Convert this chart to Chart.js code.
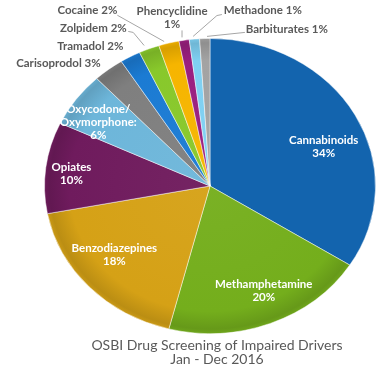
<!DOCTYPE html>
<html>
<head>
<meta charset="utf-8">
<script src="https://cdn.jsdelivr.net/npm/chart.js@4.4.1/dist/chart.umd.min.js"></script>
<style>
html,body{margin:0;padding:0;background:#fff;}
canvas{display:block;}
</style>
</head>
<body>
<canvas id="c" width="380" height="380"></canvas>
<script>
// ---- data ----
const categories = ["Cannabinoids","Methamphetamine","Benzodiazepines","Opiates","Oxycodone/ Oxymorphone:","Carisoprodol","Tramadol","Zolpidem","Cocaine","Phencyclidine","Methadone","Barbiturates"];
const percents = [34,20,18,10,6,3,2,2,2,1,1,1];
const sliceColors = ["#1364ae","#74ae1c","#d5a116","#6f1b5d","#6db6da","#7f7f7f","#1b7bd3","#88c82b","#f6b500","#9a1f7f","#7fd0f2","#a3a3a3"];
const titleLines = ["OSBI Drug Screening of Impaired Drivers","Jan - Dec 2016"];

// label layout (relative to pie centre, in units of radius)
const labelLayout = [
  {lines:["Cannabinoids","34%"], fx:0.687, fy:-0.236, inside:true},
  {lines:["Methamphetamine","20%"], fx:0.325, fy:0.633, inside:true},
  {lines:["Benzodiazepines","18%"], fx:-0.578, fy:0.416, inside:true},
  {lines:["Opiates","10%"], fx:-0.837, fy:-0.075, inside:true},
  {lines:["Oxycodone/","Oxymorphone:","6%"], fx:-0.675, fy:-0.386, inside:true},
  {lines:["Carisoprodol 3%"], fx:-0.916, fy:-0.741},
  {lines:["Tramadol 2%"], fx:-0.723, fy:-0.843},
  {lines:["Zolpidem 2%"], fx:-0.705, fy:-0.952},
  {lines:["Cocaine 2%"], fx:-0.741, fy:-1.060},
  {lines:["Phencyclidine","1%"], fx:-0.229, fy:-1.015},
  {lines:["Methadone 1%"], fx:0.319, fy:-1.060},
  {lines:["Barbiturates 1%"], fx:0.464, fy:-0.946}
];
const leaders = [
  [[-0.560,-1.032],[-0.277,-0.873]],
  [[-0.494,-0.934],[-0.464,-0.928],[-0.398,-0.849]],
  [[-0.169,-0.940],[-0.169,-0.898]],
  [[0.072,-1.036],[0.042,-1.030],[-0.102,-0.904]],
  [[0.211,-0.928],[-0.018,-0.904]]
];
const yRatio = 148/166;

function shade(hex, f){
  const n=parseInt(hex.slice(1),16);
  let r=(n>>16)&255,g=(n>>8)&255,b=n&255;
  if(f<0){r*=1+f;g*=1+f;b*=1+f;}
  else{r+=(255-r)*f;g+=(255-g)*f;b+=(255-b)*f;}
  return `rgb(${Math.round(r)},${Math.round(g)},${Math.round(b)})`;
}

function sliceFill(c){
  const chart=c.chart;
  const base=sliceColors[c.dataIndex];
  const a=chart.getDatasetMeta(0).data[0];
  if(!a || !a.outerRadius) return base;
  const g=chart.ctx.createRadialGradient(a.x,a.y,0,a.x,a.y,a.outerRadius);
  g.addColorStop(0,shade(base,0.04));
  g.addColorStop(0.85,base);
  g.addColorStop(0.97,shade(base,-0.12));
  g.addColorStop(1,shade(base,-0.05));
  return g;
}

const pieLook = {
  id:'pieLook',
  beforeDatasetsDraw(chart){
    const a = chart.getDatasetMeta(0).data[0];
    const ctx = chart.ctx;
    ctx.save();
    ctx.translate(a.x,a.y);
    ctx.scale(1,yRatio);
    ctx.translate(-a.x,-a.y);
  },
  afterDatasetsDraw(chart){
    const ctx = chart.ctx;
    ctx.restore();
    const a = chart.getDatasetMeta(0).data[0];
    const cx=a.x, cy=a.y, r=a.outerRadius;
    ctx.save();
    ctx.strokeStyle="#a6a6a6";
    ctx.lineWidth=1;
    leaders.forEach(pts=>{
      ctx.beginPath();
      pts.forEach((p,i)=>{
        const x=cx+p[0]*r, y=cy+p[1]*r;
        if(i===0) ctx.moveTo(x,y); else ctx.lineTo(x,y);
      });
      ctx.stroke();
    });
    ctx.textAlign='center';
    ctx.textBaseline='middle';
    ctx.font="bold 11.5px Lato";
    const lh=13;
    labelLayout.forEach(l=>{
      ctx.fillStyle = l.inside ? "#ffffff" : "#595959";
      const x=cx+l.fx*r, y0=cy+l.fy*r-(l.lines.length-1)*lh/2;
      l.lines.forEach((t,i)=>ctx.fillText(t,x,y0+i*lh));
    });
    ctx.fillStyle="#595959";
    ctx.font="14px Lato";
    ctx.fillText(titleLines[0],217,345);
    ctx.fillText(titleLines[1],217,359);
    ctx.restore();
  }
};

new Chart(document.getElementById('c'),{
  type:'pie',
  data:{labels:categories,datasets:[{data:percents,backgroundColor:sliceFill,borderColor:'rgba(255,255,255,0.5)',borderWidth:1}]},
  options:{
    responsive:false,
    animation:false,
    layout:{padding:{left:44,right:4,top:20,bottom:28}},
    plugins:{legend:{display:false},tooltip:{enabled:false},title:{display:false}}
  },
  plugins:[pieLook]
});
</script>
</body>
</html>
